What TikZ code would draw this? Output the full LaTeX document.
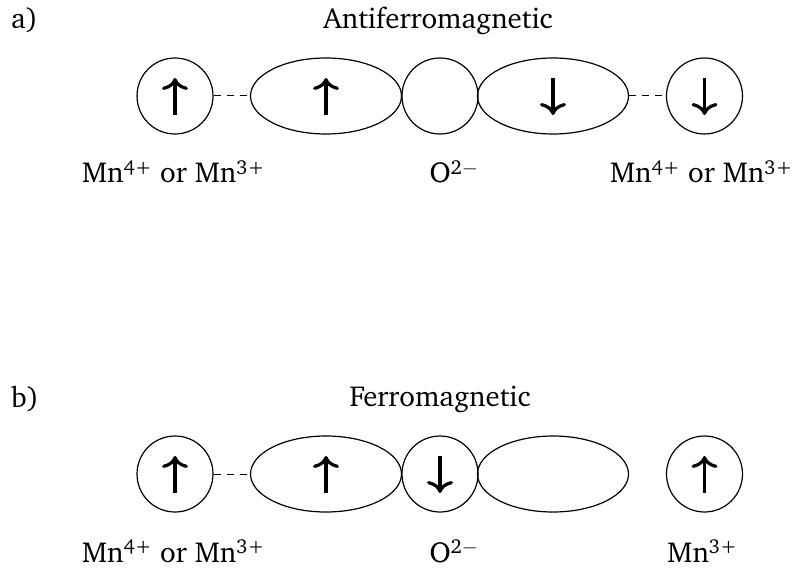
\documentclass[tikz,border=0pt]{standalone}
\usepackage[T1]{fontenc}
\usepackage{charter}
\usetikzlibrary{shapes.geometric,arrows.meta}
\begin{document}
\begin{tikzpicture}[x=1bp,y=-1bp,
  orb/.style={draw, line width=1.2bp, inner sep=0pt},
  atom/.style={orb, circle, minimum size=76bp},
  lobe/.style={orb, ellipse, minimum width=151bp, minimum height=76bp},
  bond/.style={line width=1bp, dash pattern=on 7bp off 6bp},
  spin/.style={line width=3.2bp, -{To[length=12bp,width=26bp]}},
  lab/.style={font=\fontsize{29}{34}\selectfont, inner sep=0pt, anchor=base},
]
\useasboundingbox (0,0) rectangle (796,569);
% ---- row a ----
\node[lab, anchor=base west] (pa) at (11,29) {a)};
\node[lab] (ta) at (438,29) {Antiferromagnetic};
\node[atom] (a1) at (175,96) {};
\node[lobe] (a2) at (326,96) {};
\node[atom] (a3) at (440,96) {};
\node[lobe] (a4) at (553,96) {};
\node[atom] (a5) at (704.5,96) {};
\draw[bond] (a1) -- (a2);
\draw[bond] (a4) -- (a5);
\draw[spin] ([yshift=-19bp]a1.center) -- ([yshift=18bp]a1.center);
\draw[spin] ([yshift=-19bp]a2.center) -- ([yshift=18bp]a2.center);
\draw[spin] ([yshift=18bp]a4.center) -- ([yshift=-19bp]a4.center);
\draw[spin] ([yshift=18bp]a5.center) -- ([yshift=-19bp]a5.center);
\node[lab] (la1) at (173.5,183) {Mn\textsuperscript{4+} or Mn\textsuperscript{3+}};
\node[lab] (la3) at (454,183) {O\textsuperscript{2$-$}};
\node[lab] (la5) at (701.5,183) {Mn\textsuperscript{4+} or Mn\textsuperscript{3+}};
% ---- row b ----
\node[lab, anchor=base west] (pb) at (11,407) {b)};
\node[lab] (tb) at (440,406) {Ferromagnetic};
\node[atom] (b1) at (175,474) {};
\node[lobe] (b2) at (326,474) {};
\node[atom] (b3) at (440,474) {};
\node[lobe] (b4) at (553,474) {};
\node[atom] (b5) at (704.5,474) {};
\draw[bond] (b1) -- (b2);
\draw[spin] ([yshift=-19bp]b1.center) -- ([yshift=18bp]b1.center);
\draw[spin] ([yshift=-19bp]b2.center) -- ([yshift=18bp]b2.center);
\draw[spin] ([yshift=18bp]b3.center) -- ([yshift=-19bp]b3.center);
\draw[spin] ([yshift=-19bp]b5.center) -- ([yshift=18bp]b5.center);
\node[lab] (lb1) at (173.5,562) {Mn\textsuperscript{4+} or Mn\textsuperscript{3+}};
\node[lab] (lb3) at (454,562) {O\textsuperscript{2$-$}};
\node[lab] (lb5) at (702.5,562) {Mn\textsuperscript{3+}};
\end{tikzpicture}
\end{document}
